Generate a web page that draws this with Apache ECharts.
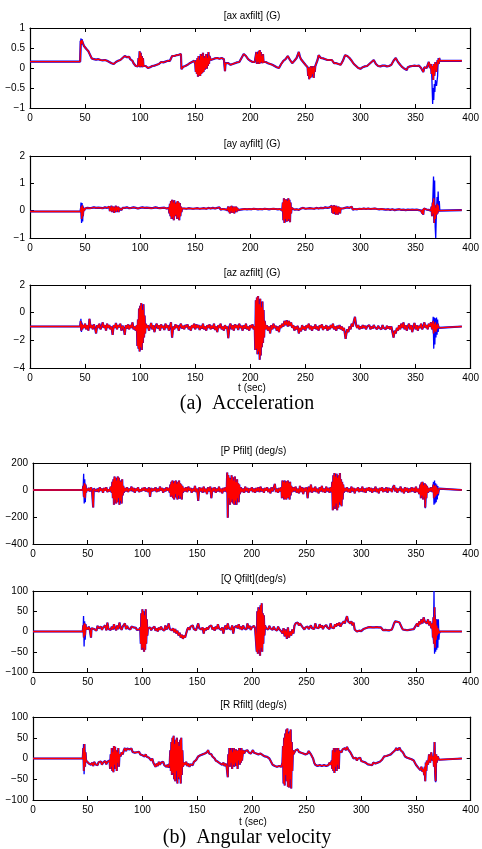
<!DOCTYPE html>
<html>
<head>
<meta charset="utf-8">
<script src="https://cdn.jsdelivr.net/npm/echarts@6/dist/echarts.min.js"></script>
<style>
html, body { margin: 0; padding: 0; background: #fff; }
#chart { width: 482px; height: 849px; }
</style>
</head>
<body>
<div id="chart"></div>
<script>
// tick labels
const xTicks = [0, 50, 100, 150, 200, 250, 300, 350, 400];
const axTicks = [-1, -0.5, 0, 0.5, 1];
const ayTicks = [-1, 0, 1, 2];
const azTicks = [-4, -2, 0, 2];
const pTicks = [-400, -200, 0, 200];
const qTicks = [-100, -50, 0, 50, 100];
const rTicks = [-100, -50, 0, 50, 100];

// filtered signals (red), [t, value]
const axFilt = [[0,0.16],[45.5,0.16],[46,0.68],[46.5,0.6],[47,0.7],[48,0.62],[49,0.55],[50,0.5],[51,0.48],[52,0.45],[53,0.42],[54,0.36],[55,0.3],[56,0.24],[57,0.27],[58,0.22],[59,0.25],[60,0.21],[61,0.24],[62,0.22],[63,0.26],[64,0.2],[65,0.23],[66,0.19],[67,0.22],[68,0.2],[69,0.24],[70,0.18],[71,0.2],[72,0.15],[73,0.16],[74,0.12],[75,0.14],[76,0.1],[77,0.13],[78,0.15],[79,0.14],[80,0.18],[81,0.16],[82,0.2],[83,0.22],[84,0.25],[85,0.24],[86,0.3],[87,0.33],[88,0.27],[89,0.25],[90,0.28],[91,0.22],[92,0.2],[93,0.18],[94,0.12],[95,0.1],[96,0.05],[97,0.08],[98,0.04],[98.5,0.25],[99,0.05],[99.5,0.42],[100,0.02],[100.5,0.38],[101,0.05],[101.5,0.3],[102,0.02],[102.5,0.25],[103,0.05],[104,0.1],[105,0.05],[106,0.02],[107,0.0],[108,0.03],[109,0.02],[110,0.0],[111,0.05],[112,0.08],[113,0.06],[114,0.1],[115,0.08],[116,0.12],[117,0.1],[118,0.12],[119,0.15],[120,0.12],[121,0.14],[122,0.12],[123,0.16],[124,0.15],[125,0.18],[126,0.2],[127,0.18],[128,0.22],[129,0.3],[130,0.33],[131,0.3],[132,0.35],[133,0.32],[134,0.36],[135,0.33],[136,0.38],[137,0.35],[137.5,-0.03],[138,0.0],[139,0.03],[140,0.0],[141,0.05],[142,0.02],[143,0.08],[144,0.1],[145,0.12],[146,0.1],[147,0.15],[148,0.12],[149,0.18],[150,0.1],[150.5,-0.1],[151,0.2],[151.5,-0.15],[152,0.25],[152.5,-0.22],[153,0.3],[153.5,-0.18],[154,0.2],[154.5,-0.2],[155,0.35],[155.5,-0.15],[156,0.3],[156.5,-0.12],[157,0.38],[157.5,-0.1],[158,0.25],[158.5,-0.05],[159,0.3],[159.5,0.0],[160,0.35],[160.5,-0.02],[161,0.25],[161.5,0.05],[162,0.4],[162.5,0.1],[163,0.3],[164,0.2],[165,0.25],[166,0.22],[167,0.2],[168,0.24],[169,0.22],[170,0.25],[171,0.2],[172,0.23],[173,0.2],[174,0.25],[175,0.2],[176,0.22],[177,-0.08],[177.5,0.12],[178,0.1],[179,0.08],[180,0.12],[181,0.1],[182,0.08],[183,0.12],[184,0.1],[185,0.08],[186,0.12],[187,0.1],[188,0.14],[189,0.12],[190,0.15],[191,0.2],[192,0.25],[193,0.3],[194,0.35],[195,0.38],[196,0.3],[197,0.28],[198,0.22],[199,0.2],[200,0.18],[201,0.2],[202,0.15],[203,0.18],[204,0.15],[205,0.12],[205.5,0.4],[206,0.1],[206.5,0.35],[207,0.15],[207.5,0.42],[208,0.1],[208.5,0.45],[209,0.12],[209.5,0.4],[210,0.15],[210.5,0.3],[211,0.12],[211.5,0.35],[212,0.15],[213,0.2],[214,0.15],[215,0.18],[216,0.12],[217,0.15],[218,0.1],[219,0.12],[220,0.08],[221,0.1],[222,0.05],[223,0.08],[224,0.02],[225,0.05],[226,0.0],[227,0.05],[228,0.1],[229,0.12],[230,0.18],[231,0.15],[232,0.22],[233,0.25],[234,0.3],[235,0.28],[236,0.2],[237,0.15],[238,0.12],[239,0.15],[240,0.18],[241,0.22],[242,0.25],[243,0.3],[244,0.4],[245,0.28],[246,0.22],[247,0.18],[248,0.15],[249,0.12],[250,0.08],[251,0.05],[252,0.02],[252.5,-0.2],[253,0.0],[253.5,-0.28],[254,0.02],[254.5,-0.25],[255,0.05],[255.5,-0.22],[256,0.0],[256.5,-0.15],[257,0.05],[257.5,-0.25],[258,0.02],[258.5,-0.1],[259,0.05],[260,0.1],[261,0.2],[262,0.32],[263,0.28],[264,0.25],[265,0.27],[266,0.24],[267,0.25],[268,0.22],[269,0.24],[270,0.2],[271,0.22],[272,0.2],[273,0.18],[274,0.2],[275,0.15],[276,0.12],[277,0.1],[278,0.12],[279,0.08],[280,0.1],[281,0.06],[282,0.08],[283,0.1],[284,0.18],[285,0.25],[286,0.32],[287,0.35],[288,0.3],[289,0.28],[290,0.25],[291,0.22],[292,0.18],[293,0.15],[294,0.1],[295,0.08],[296,0.05],[297,0.02],[298,0.0],[299,0.02],[300,-0.02],[301,0.0],[302,0.02],[303,0.0],[304,0.04],[305,0.02],[306,0.05],[307,0.08],[308,0.1],[309,0.12],[310,0.15],[311,0.18],[312,0.2],[313,0.15],[314,0.1],[315,0.08],[316,0.05],[317,0.06],[318,0.04],[319,0.05],[320,0.06],[321,0.04],[322,0.06],[323,0.05],[324,0.04],[325,0.06],[326,0.05],[327,0.04],[328,0.08],[329,0.1],[330,0.18],[331,0.22],[332,0.25],[333,0.2],[334,0.15],[335,0.12],[336,0.08],[337,0.05],[338,0.02],[339,0.0],[340,-0.02],[341,0.0],[342,-0.05],[343,0.02],[344,0.0],[345,0.04],[346,0.02],[347,0.05],[348,0.02],[349,0.06],[350,0.03],[351,0.05],[352,0.02],[353,0.06],[354,0.04],[355,0.0],[356,-0.05],[356.5,0.05],[357,-0.1],[358,0.02],[359,0.05],[360,0.0],[361,0.05],[362,0.15],[363,0.0],[364,0.1],[364.5,-0.15],[365,0.05],[366,-0.3],[366.5,0.1],[367,-0.2],[368,0.15],[369,-0.1],[370,0.2],[371,0.1],[371.5,0.25],[372,0.18],[392,0.18]];

const ayFilt = [[0,-0.03],[46,-0.03],[46.5,0.15],[47,-0.3],[47.5,0.2],[48,-0.2],[48.5,0.1],[49,0.0],[50,0.08],[51,0.05],[52,0.1],[53,0.06],[54,0.09],[55,0.05],[56,0.1],[57,0.08],[58,0.12],[59,0.07],[60,0.1],[61,0.06],[62,0.11],[63,0.08],[64,0.1],[65,0.05],[66,0.09],[67,0.07],[68,0.12],[69,0.06],[70,0.1],[71,0.08],[72,0.15],[72.5,-0.02],[73,0.12],[73.5,0.0],[74,0.18],[74.5,-0.05],[75,0.12],[75.5,0.02],[76,0.15],[76.5,-0.08],[77,0.1],[77.5,0.0],[78,0.18],[78.5,-0.05],[79,0.12],[79.5,0.02],[80,0.15],[80.5,-0.05],[81,0.1],[82,0.14],[83,0.02],[84,0.1],[85,0.06],[86,0.1],[87,0.05],[88,0.12],[89,0.06],[90,0.09],[91,0.04],[92,0.1],[93,0.06],[94,0.12],[95,0.05],[96,0.1],[97,0.04],[98,0.08],[99,0.05],[100,0.1],[101,0.06],[102,0.12],[103,0.05],[104,0.1],[105,0.07],[106,0.11],[107,0.06],[108,0.1],[109,0.05],[110,0.09],[111,0.06],[112,0.1],[113,0.08],[114,0.12],[115,0.06],[116,0.1],[117,0.05],[118,0.09],[119,0.07],[120,0.1],[121,0.06],[122,0.11],[123,0.05],[124,0.08],[125,0.06],[126,0.1],[126.5,-0.1],[127,0.25],[127.5,-0.2],[128,0.35],[128.5,-0.3],[129,0.4],[129.5,-0.25],[130,0.3],[130.5,-0.35],[131,0.38],[131.5,-0.2],[132,0.25],[132.5,-0.15],[133,0.3],[133.5,-0.3],[134,0.35],[134.5,-0.25],[135,0.3],[135.5,-0.35],[136,0.28],[136.5,-0.2],[137,0.15],[137.5,-0.05],[138,0.08],[139,0.05],[140,0.08],[141,0.04],[142,0.07],[143,0.05],[144,0.09],[145,0.06],[146,0.08],[147,0.04],[148,0.07],[149,0.05],[150,0.08],[151,0.06],[152,0.09],[153,0.05],[154,0.07],[155,0.04],[156,0.08],[157,0.06],[158,0.09],[159,0.05],[160,0.07],[161,0.06],[162,0.1],[163,0.05],[164,0.08],[165,0.06],[166,0.1],[167,0.04],[168,0.08],[169,0.06],[170,0.1],[171,0.05],[172,0.12],[173,0.04],[174,0.08],[175,0.06],[176,0.1],[177,0.05],[178,0.12],[179,0.02],[180,0.15],[180.5,-0.05],[181,0.12],[181.5,-0.1],[182,0.15],[182.5,-0.02],[183,0.18],[183.5,-0.08],[184,0.1],[184.5,-0.05],[185,0.15],[185.5,-0.1],[186,0.12],[186.5,0.0],[187,0.15],[187.5,-0.05],[188,0.1],[189,0.02],[190,0.06],[191,0.04],[192,0.07],[193,0.05],[194,0.08],[195,0.06],[196,0.09],[197,0.05],[198,0.08],[199,0.06],[200,0.1],[201,0.05],[202,0.08],[203,0.07],[204,0.1],[205,0.06],[206,0.08],[207,0.05],[208,0.09],[209,0.06],[210,0.1],[211,0.05],[212,0.08],[213,0.07],[214,0.1],[215,0.06],[216,0.09],[217,0.05],[218,0.08],[219,0.06],[220,0.1],[221,0.07],[222,0.12],[223,0.06],[224,0.1],[225,0.05],[226,0.08],[227,0.06],[228,0.1],[229,0.0],[229.5,0.3],[230,-0.35],[230.5,0.45],[231,-0.45],[231.5,0.4],[232,-0.3],[232.5,0.42],[233,-0.4],[233.5,0.35],[234,-0.38],[234.5,0.45],[235,-0.3],[235.5,0.4],[236,-0.42],[236.5,0.3],[237,-0.1],[237.5,0.1],[238,0.03],[239,0.06],[240,0.04],[241,0.08],[242,0.05],[243,0.07],[244,0.03],[245,0.06],[246,0.08],[247,0.04],[248,0.1],[249,0.05],[250,0.07],[251,0.04],[252,0.08],[253,0.06],[254,0.09],[255,0.05],[256,0.08],[257,0.04],[258,0.07],[259,0.05],[260,0.1],[261,0.06],[262,0.08],[263,0.04],[264,0.1],[265,0.06],[266,0.09],[267,0.05],[268,0.12],[269,0.06],[270,0.1],[271,0.07],[272,0.12],[273,0.05],[274,0.18],[274.5,-0.08],[275,0.15],[275.5,-0.12],[276,0.2],[276.5,-0.05],[277,0.15],[277.5,-0.15],[278,0.18],[278.5,-0.1],[279,0.12],[279.5,-0.15],[280,0.15],[280.5,-0.05],[281,0.12],[281.5,-0.1],[282,0.08],[283,0.04],[284,0.08],[285,0.05],[286,0.1],[287,0.06],[288,0.12],[289,0.05],[290,0.1],[291,0.06],[292,0.15],[293,0.04],[294,0.1],[295,0.06],[296,0.12],[297,0.05],[298,0.1],[299,0.07],[300,0.12],[301,0.06],[302,0.1],[303,0.08],[304,0.12],[305,0.06],[306,0.1],[307,0.08],[308,0.11],[309,0.06],[310,0.1],[311,0.07],[312,0.12],[313,0.08],[314,0.1],[315,0.06],[316,0.09],[317,0.05],[318,0.08],[319,0.06],[320,0.1],[321,0.05],[322,0.08],[323,0.04],[324,0.07],[325,0.05],[326,0.09],[327,0.03],[328,0.08],[329,0.05],[330,0.06],[331,0.02],[332,0.07],[333,0.04],[334,0.08],[335,0.05],[336,0.07],[337,0.03],[338,0.06],[339,0.04],[340,0.08],[341,0.02],[342,0.06],[343,0.04],[344,0.07],[345,0.03],[346,0.06],[347,0.04],[348,0.08],[349,0.03],[350,0.06],[351,0.04],[352,0.1],[353,0.02],[354,0.06],[355,0.0],[356,-0.1],[356.5,0.05],[357,-0.15],[357.5,0.08],[358,0.02],[359,0.06],[360,0.04],[361,0.08],[362,0.03],[363,0.06],[364,0.0],[364.5,0.15],[365,-0.2],[365.5,0.3],[366,-0.1],[366.5,0.45],[367,-0.45],[367.5,0.2],[368,-0.3],[368.5,0.1],[369,-0.15],[369.5,0.25],[370,-0.1],[370.5,0.2],[371,0.0],[371.5,0.05],[372,0.02],[392,0.02]];

const azFilt = [[0,-1],[45.5,-1],[46,-0.6],[46.5,-1.3],[47,-0.8],[47.5,-1.2],[48,-0.9],[49,-1.1],[50,-0.8],[51,-1.2],[52,-0.9],[53,-1.3],[54,-0.45],[55,-1.1],[56,-0.9],[57,-1.2],[58,-0.85],[59,-1.1],[60,-1.5],[61,-0.9],[62,-1.1],[63,-0.8],[64,-1.2],[65,-1.0],[66,-0.7],[67,-1.1],[68,-0.9],[69,-1.3],[70,-0.8],[71,-1.1],[72,-0.9],[73,-1.2],[74,-1.0],[75,-1.6],[76,-0.9],[77,-1.1],[78,-0.75],[79,-1.2],[80,-0.9],[81,-1.05],[82,-0.8],[83,-1.3],[84,-0.95],[85,-1.1],[86,-1.6],[87,-0.9],[88,-1.15],[89,-0.85],[90,-1.2],[91,-0.9],[92,-1.1],[93,-0.7],[94,-1.2],[95,-1.0],[96,-1.3],[97,-0.9],[97.5,-2.4],[98,-0.5],[98.5,-2.6],[99,0.3],[99.5,-2.8],[100,0.5],[100.5,-2.5],[101,0.7],[101.5,-2.7],[102,0.2],[102.5,-2.2],[103,0.6],[103.5,-1.8],[104,-0.2],[104.5,-1.5],[105,-0.8],[106,-1.1],[107,-0.9],[108,-1.3],[109,-1.0],[110,-0.75],[111,-1.2],[112,-0.9],[113,-1.4],[114,-1.0],[115,-0.8],[116,-1.15],[117,-0.9],[118,-1.3],[119,-0.85],[120,-1.1],[121,-0.95],[122,-1.25],[123,-0.8],[124,-1.1],[125,-0.9],[126,-1.3],[127,-1.0],[128,-0.7],[129,-1.8],[130,-1.0],[131,-1.2],[132,-0.85],[133,-1.1],[134,-0.9],[135,-1.3],[136,-1.0],[137,-0.8],[138,-1.15],[139,-0.95],[140,-1.2],[141,-0.9],[142,-1.05],[143,-0.85],[144,-1.2],[145,-1.0],[146,-1.3],[147,-0.9],[148,-1.1],[149,-0.8],[150,-1.2],[151,-0.85],[152,-1.1],[153,-0.9],[154,-1.25],[155,-0.95],[156,-1.15],[157,-0.8],[158,-1.2],[159,-1.0],[160,-1.3],[161,-0.9],[162,-1.1],[163,-0.85],[164,-1.2],[165,-0.95],[166,-1.15],[167,-0.8],[168,-1.25],[169,-1.0],[170,-1.4],[171,-0.9],[172,-1.1],[173,-0.8],[174,-1.2],[175,-1.0],[176,-1.3],[177,-0.9],[178,-1.15],[179,-1.0],[180,-1.85],[181,-1.0],[182,-0.8],[183,-1.2],[184,-0.9],[185,-1.3],[186,-0.85],[187,-1.1],[188,-0.9],[189,-1.25],[190,-0.8],[191,-1.1],[192,-0.95],[193,-1.3],[194,-0.9],[195,-1.15],[196,-0.8],[197,-1.2],[198,-1.0],[199,-1.3],[200,-0.9],[201,-1.1],[202,-0.85],[203,-1.2],[204,-1.0],[204.5,-2.7],[205,0.9],[205.5,-2.6],[206,1.1],[206.5,-3.0],[207,1.2],[207.5,-2.8],[208,0.6],[208.5,-3.4],[209,1.0],[209.5,-3.1],[210,0.4],[210.5,-2.5],[211,0.8],[211.5,-2.2],[212,0.2],[212.5,-1.8],[213,-0.6],[214,-1.2],[215,-0.9],[216,-1.3],[217,-1.0],[218,-1.5],[219,-0.9],[220,-1.2],[221,-0.8],[222,-1.1],[223,-0.95],[224,-1.3],[225,-1.0],[226,-1.4],[227,-0.9],[228,-1.1],[229,-0.8],[230,-1.0],[231,-0.6],[232,-0.9],[233,-0.55],[234,-1.0],[235,-0.6],[236,-0.95],[237,-0.7],[238,-1.1],[239,-0.9],[240,-1.3],[241,-1.0],[242,-1.2],[243,-0.95],[244,-1.5],[245,-1.1],[246,-1.35],[247,-0.9],[248,-1.2],[249,-1.0],[250,-1.3],[251,-0.9],[252,-1.1],[253,-0.8],[254,-1.2],[255,-0.95],[256,-1.3],[257,-1.0],[258,-1.15],[259,-0.85],[260,-1.2],[261,-1.0],[262,-1.3],[263,-0.9],[264,-1.1],[265,-0.85],[266,-1.25],[267,-1.0],[268,-1.15],[269,-0.9],[270,-1.3],[271,-1.0],[272,-1.2],[273,-0.9],[274,-1.1],[275,-0.8],[276,-1.2],[277,-1.0],[278,-1.3],[279,-0.95],[280,-1.15],[281,-0.9],[282,-1.2],[283,-1.0],[284,-1.3],[285,-1.1],[286,-1.6],[286.5,-1.9],[287,-1.6],[288,-1.2],[289,-1.4],[290,-1.0],[291,-1.2],[292,-0.8],[293,-1.0],[294,-0.6],[295,-0.3],[296,-0.9],[297,-1.1],[298,-0.9],[299,-1.2],[300,-1.0],[301,-1.15],[302,-0.9],[303,-1.1],[304,-0.95],[305,-1.2],[306,-1.0],[307,-1.1],[308,-0.9],[309,-1.2],[310,-1.0],[311,-1.15],[312,-0.9],[313,-1.05],[314,-1.0],[315,-1.2],[316,-0.95],[317,-1.1],[318,-1.0],[319,-1.2],[320,-0.9],[321,-1.1],[322,-1.0],[323,-1.2],[324,-0.95],[325,-1.15],[326,-1.0],[327,-1.2],[328,-1.0],[329,-1.4],[330,-1.8],[331,-1.3],[332,-1.5],[333,-1.1],[334,-1.3],[335,-0.9],[336,-1.2],[337,-0.8],[338,-1.1],[339,-0.7],[340,-1.2],[341,-0.9],[342,-1.3],[343,-1.0],[344,-0.8],[345,-1.2],[346,-0.9],[347,-1.4],[348,-1.0],[349,-0.75],[350,-1.2],[351,-0.9],[352,-1.3],[353,-0.95],[354,-1.1],[355,-0.8],[356,-1.2],[357,-1.0],[358,-0.7],[359,-1.1],[360,-0.9],[361,-1.2],[362,-0.8],[363,-1.0],[364,-0.7],[365,-1.2],[366,-0.6],[366.5,-1.5],[367,-0.8],[367.5,-1.3],[368,-0.7],[368.5,-1.4],[369,-0.9],[369.5,-1.2],[370,-0.8],[371,-1.1],[372,-1.0],[392,-1.0]];

const pFilt = [[0,0],[45.5,0],[46,30],[46.5,-50],[47,50],[47.5,-60],[48,40],[48.5,-20],[49,10],[50,-5],[51,15],[52,-10],[53,20],[54,-5],[55,-130],[55.5,10],[56,0],[57,15],[58,-10],[59,10],[60,-15],[61,20],[62,-5],[63,10],[64,-20],[65,15],[66,-5],[67,20],[68,-15],[69,5],[70,-10],[71,25],[72,-20],[72.5,60],[73,-60],[73.5,80],[74,-110],[74.5,100],[75,-70],[75.5,90],[76,-100],[76.5,70],[77,-90],[77.5,100],[78,-60],[78.5,90],[79,-110],[79.5,70],[80,-80],[80.5,60],[81,-100],[81.5,80],[82,-40],[82.5,30],[83,-20],[84,15],[85,-10],[86,20],[87,-15],[88,10],[89,-5],[90,25],[91,-10],[92,15],[93,-20],[94,10],[95,-5],[96,20],[97,-15],[98,5],[99,-10],[100,15],[101,-5],[102,20],[103,-10],[104,10],[105,-15],[106,20],[107,-50],[108,15],[109,-10],[110,10],[111,-5],[112,20],[113,-15],[114,10],[115,-10],[116,25],[117,-5],[118,15],[119,-20],[120,10],[121,-10],[122,20],[123,-5],[124,15],[125,-20],[125.5,40],[126,-50],[126.5,60],[127,-40],[127.5,70],[128,-60],[128.5,50],[129,-70],[129.5,65],[130,-30],[130.5,70],[131,-55],[131.5,45],[132,-70],[132.5,60],[133,-40],[133.5,70],[134,-65],[134.5,50],[135,-50],[135.5,40],[136,-70],[136.5,30],[137,-20],[138,15],[139,-10],[140,20],[141,-15],[142,25],[143,-5],[144,15],[145,-20],[146,10],[147,-10],[148,30],[149,-15],[150,10],[151,-80],[152,20],[153,-10],[154,15],[155,-20],[156,25],[157,-15],[158,10],[159,-30],[160,20],[161,-10],[162,25],[163,-60],[164,15],[165,-10],[166,20],[167,-20],[168,10],[169,-10],[170,25],[171,-15],[172,10],[173,-25],[174,15],[175,-10],[176,20],[177,-15],[177.5,130],[178,-205],[178.5,110],[179,-60],[179.5,90],[180,-110],[180.5,80],[181,-90],[181.5,110],[182,-70],[182.5,95],[183,-100],[183.5,70],[184,-110],[184.5,100],[185,-80],[185.5,60],[186,-110],[186.5,80],[187,-60],[187.5,50],[188,-90],[188.5,40],[189,-30],[190,20],[191,-15],[192,10],[193,-20],[194,25],[195,-10],[196,15],[197,-20],[198,10],[199,-5],[200,20],[201,-15],[202,10],[203,-20],[204,15],[205,-10],[206,20],[207,-15],[208,25],[209,-10],[210,10],[211,-20],[212,15],[213,-5],[214,20],[215,-15],[216,10],[217,-25],[218,20],[219,-10],[220,15],[221,45],[222,-15],[223,10],[224,-20],[225,15],[226,-10],[227,20],[227.5,-60],[228,70],[228.5,-50],[229,60],[229.5,-70],[230,70],[230.5,-65],[231,55],[231.5,-70],[232,65],[232.5,-60],[233,70],[233.5,-55],[234,50],[234.5,-70],[235,60],[235.5,-40],[236,30],[237,-15],[238,20],[239,-10],[240,25],[241,-20],[242,10],[243,-25],[244,30],[245,-15],[246,20],[247,-30],[248,15],[249,-10],[250,20],[251,-60],[252,25],[253,-15],[254,40],[255,-20],[256,15],[257,-10],[258,25],[259,-15],[260,10],[261,-25],[262,20],[263,-10],[264,30],[265,-15],[266,10],[267,-20],[268,25],[269,-10],[270,15],[271,-20],[272,20],[273,-15],[273.5,60],[274,-150],[274.5,110],[275,-120],[275.5,125],[276,-140],[276.5,100],[277,-100],[277.5,120],[278,-150],[278.5,90],[279,-130],[279.5,110],[280,-90],[280.5,125],[281,-110],[281.5,80],[282,-120],[282.5,60],[283,-70],[283.5,40],[284,-20],[285,15],[286,-10],[287,20],[288,-15],[289,10],[290,-20],[291,25],[292,-10],[293,15],[294,-25],[295,10],[296,-5],[297,20],[298,-15],[299,10],[300,-10],[301,25],[302,-15],[303,10],[304,-20],[305,15],[306,-5],[307,20],[308,-10],[309,15],[310,-20],[311,10],[312,-10],[313,25],[314,-15],[315,10],[316,-25],[317,15],[318,-5],[319,20],[320,-15],[321,10],[322,-10],[323,20],[324,-20],[325,15],[326,-5],[327,10],[328,-15],[329,20],[330,35],[331,-10],[332,15],[333,-20],[334,10],[335,-5],[336,25],[337,-15],[338,10],[339,-25],[340,20],[341,-10],[342,15],[343,-20],[344,10],[345,-15],[346,20],[347,-10],[348,15],[349,-20],[350,25],[351,-15],[352,10],[353,-30],[354,40],[354.5,-60],[355,55],[355.5,-40],[356,60],[356.5,-70],[357,35],[357.5,-50],[358,50],[358.5,-130],[359,40],[359.5,-60],[360,30],[361,-20],[362,15],[363,-10],[364,20],[365,-15],[366,40],[366.5,-60],[367,30],[367.5,-50],[368,35],[368.5,-40],[369,20],[370,-30],[371,10],[372,0],[392,0]];

const qFilt = [[0,0],[45.5,0],[46,15],[46.5,-15],[47,20],[47.5,-10],[48,18],[48.5,5],[49,10],[50,5],[51,12],[52,3],[53,-15],[53.5,8],[54,5],[55,12],[56,6],[57,10],[58,2],[59,14],[60,8],[61,5],[62,12],[63,4],[64,10],[65,7],[66,15],[67,3],[68,22],[69,6],[70,10],[71,4],[72,12],[73,5],[74,18],[75,8],[76,3],[77,15],[78,6],[79,22],[80,10],[81,4],[82,12],[83,8],[84,20],[85,6],[86,14],[87,8],[88,10],[89,5],[90,12],[91,8],[92,10],[93,6],[94,9],[95,4],[96,8],[97,5],[98,10],[98.5,-30],[99,45],[99.5,-45],[100,55],[100.5,-40],[101,50],[101.5,-50],[102,40],[102.5,-45],[103,55],[103.5,-30],[104,30],[104.5,-10],[105,8],[106,5],[107,10],[108,3],[109,8],[110,4],[111,12],[112,2],[113,8],[114,0],[115,10],[116,4],[117,12],[118,6],[119,10],[120,2],[121,15],[122,5],[123,10],[124,20],[125,6],[126,10],[127,3],[128,8],[129,-2],[130,6],[131,-5],[132,2],[133,-10],[134,-3],[135,-15],[136,-8],[137,-18],[138,-10],[139,-15],[140,-5],[141,5],[142,10],[143,4],[144,12],[145,8],[146,15],[147,6],[148,10],[149,3],[150,12],[151,20],[152,8],[153,12],[154,5],[155,10],[156,-5],[157,8],[158,3],[159,10],[160,5],[161,12],[162,8],[163,15],[164,5],[165,10],[166,2],[167,12],[168,6],[169,18],[170,8],[171,12],[172,4],[173,10],[174,-5],[175,8],[176,15],[177,5],[178,20],[179,8],[180,12],[181,5],[182,15],[183,-5],[184,10],[185,6],[186,14],[187,8],[188,18],[189,6],[190,12],[191,4],[192,15],[193,8],[194,12],[195,5],[196,20],[197,8],[198,14],[199,4],[200,10],[201,6],[202,14],[203,8],[204,10],[204.5,-50],[205,50],[205.5,-55],[206,60],[206.5,-45],[207,55],[207.5,-60],[208,65],[208.5,-40],[209,70],[209.5,-50],[210,45],[210.5,-30],[211,40],[211.5,-10],[212,15],[213,8],[214,12],[215,5],[216,14],[217,8],[218,10],[219,4],[220,12],[221,6],[222,10],[223,2],[224,12],[225,6],[226,8],[227,0],[228,-5],[229,8],[230,-12],[231,5],[232,-18],[233,10],[234,-15],[235,0],[236,-10],[237,5],[238,-5],[239,15],[240,20],[241,18],[242,22],[243,15],[244,20],[245,16],[246,12],[247,8],[248,5],[249,10],[250,8],[251,12],[252,6],[253,10],[254,15],[255,8],[256,12],[257,6],[258,20],[259,10],[260,14],[261,8],[262,18],[263,10],[264,15],[265,6],[266,12],[267,8],[268,16],[269,10],[270,14],[271,6],[272,20],[273,10],[274,14],[275,8],[276,18],[277,12],[278,20],[279,15],[280,22],[281,12],[282,18],[283,14],[284,25],[285,20],[286,30],[287,38],[288,25],[289,28],[290,20],[291,25],[292,15],[293,22],[294,5],[295,2],[296,0],[297,4],[298,2],[299,5],[300,1],[301,3],[302,6],[303,4],[304,8],[305,6],[306,10],[307,8],[308,11],[309,9],[310,10],[311,8],[312,10],[313,9],[314,11],[315,8],[316,10],[317,12],[318,10],[319,6],[320,3],[321,2],[322,4],[323,2],[324,3],[325,1],[326,3],[327,2],[328,5],[329,12],[330,20],[331,25],[332,22],[333,24],[334,20],[335,22],[336,18],[337,10],[338,5],[339,2],[340,4],[341,1],[342,3],[343,0],[344,4],[345,2],[346,5],[347,3],[348,6],[349,10],[350,15],[351,20],[352,12],[353,25],[354,18],[355,30],[356,20],[357,35],[358,25],[359,28],[360,20],[361,30],[362,15],[363,25],[364,8],[365,20],[365.5,-15],[366,35],[366.5,-30],[367,60],[367.5,-40],[368,30],[368.5,-20],[369,15],[369.5,-10],[370,8],[371,-5],[372,0],[392,0]];

const rFilt = [[0,0],[45.5,0],[46,25],[46.5,-30],[47,35],[47.5,-20],[48,15],[48.5,-5],[49,-8],[50,-5],[51,-12],[52,-8],[53,-15],[54,-10],[55,-18],[56,-8],[57,-14],[58,-10],[59,-16],[60,-9],[61,-13],[62,-7],[63,-15],[64,-10],[65,-12],[66,-6],[67,-14],[68,-8],[69,-12],[70,-5],[70.5,-25],[71,10],[71.5,-20],[72,25],[72.5,-30],[73,15],[73.5,-33],[74,30],[74.5,-15],[75,28],[75.5,-25],[76,20],[76.5,-30],[77,15],[77.5,-10],[78,25],[78.5,-20],[79,10],[80,5],[81,15],[82,10],[83,20],[84,25],[85,18],[86,24],[87,20],[88,22],[89,18],[90,24],[91,16],[92,20],[93,14],[94,18],[95,15],[96,12],[97,16],[98,10],[99,14],[100,8],[101,12],[102,5],[103,10],[104,4],[105,8],[106,2],[107,6],[108,-5],[109,0],[110,-10],[111,-6],[112,-20],[113,-12],[114,-18],[115,-8],[116,-15],[117,-10],[118,-14],[119,-8],[120,-16],[121,-12],[122,-20],[123,-15],[124,-22],[125,-10],[125.5,20],[126,-30],[126.5,40],[127,-40],[127.5,50],[128,-35],[128.5,55],[129,-50],[129.5,35],[130,-55],[130.5,45],[131,-30],[131.5,50],[132,-60],[132.5,40],[133,-45],[133.5,30],[134,-50],[134.5,45],[135,-60],[135.5,50],[136,-40],[136.5,20],[137,-20],[138,-10],[139,-15],[140,-8],[141,-18],[142,-12],[143,-20],[144,-14],[145,-10],[146,-16],[147,-8],[148,-12],[149,-4],[150,0],[151,5],[152,2],[153,8],[154,4],[155,10],[156,6],[157,12],[158,8],[159,15],[160,20],[161,12],[162,8],[163,10],[164,5],[165,8],[166,0],[167,-5],[168,-2],[169,-8],[170,-5],[171,-12],[172,-8],[173,-15],[174,-10],[175,-18],[176,-12],[177,-20],[178,-45],[178.5,10],[179,-15],[179.5,25],[180,-20],[180.5,20],[181,-10],[181.5,25],[182,-25],[182.5,15],[183,-15],[183.5,25],[184,-20],[184.5,20],[185,-10],[185.5,22],[186,-18],[186.5,18],[187,-25],[187.5,20],[188,-5],[188.5,25],[189,-15],[189.5,20],[190,-10],[190.5,25],[191,-5],[192,20],[193,12],[194,18],[195,14],[196,20],[197,15],[198,18],[199,12],[200,16],[201,20],[202,14],[203,18],[204,12],[205,16],[206,10],[207,14],[208,12],[209,15],[210,8],[211,10],[212,5],[213,8],[214,4],[215,6],[216,0],[217,-5],[218,-10],[219,-15],[220,-12],[221,-18],[222,-14],[223,-20],[224,-16],[225,-18],[226,-14],[227,-20],[228,-10],[228.5,30],[229,-60],[229.5,50],[230,-65],[230.5,60],[231,-40],[231.5,70],[232,-55],[232.5,72],[233,-68],[233.5,60],[234,-70],[234.5,65],[235,-50],[235.5,70],[236,-72],[236.5,40],[237,-30],[237.5,20],[238,10],[239,15],[240,20],[241,18],[242,22],[243,16],[244,20],[245,14],[246,18],[247,12],[248,16],[249,10],[250,14],[251,12],[252,18],[253,15],[254,10],[255,5],[256,0],[257,-10],[258,-15],[259,-12],[260,-18],[261,-14],[262,-16],[263,-12],[264,-18],[265,-14],[266,-16],[267,-12],[268,-18],[269,-14],[270,-16],[271,-10],[272,-15],[273,-5],[273.5,-25],[274,20],[274.5,-30],[275,25],[275.5,-35],[276,15],[276.5,-20],[277,25],[277.5,-30],[278,20],[278.5,-15],[279,25],[279.5,-25],[280,18],[281,20],[282,15],[283,22],[284,18],[285,25],[286,20],[287,28],[288,22],[289,25],[290,15],[291,10],[292,5],[293,0],[294,-3],[295,2],[296,-5],[297,0],[298,-4],[299,2],[300,-6],[301,-2],[302,-8],[303,-4],[304,-10],[305,-8],[306,-14],[307,-10],[308,-15],[309,-12],[310,-16],[311,-10],[312,-14],[313,-12],[314,-15],[315,-10],[316,-13],[317,-8],[318,-10],[319,-3],[320,0],[321,5],[322,2],[323,6],[324,3],[325,8],[326,5],[327,10],[328,8],[329,15],[330,18],[331,20],[332,25],[333,20],[334,24],[335,26],[336,20],[337,22],[338,15],[339,10],[340,5],[341,8],[342,2],[343,5],[344,0],[345,4],[346,-2],[347,2],[348,-5],[349,-10],[350,-15],[351,-12],[352,-22],[353,-18],[354,-28],[355,-20],[356,-32],[357,-25],[357.5,-40],[358,-20],[358.5,-55],[359,-10],[359.5,-30],[360,-5],[361,-15],[362,10],[363,-10],[364,15],[365,-5],[366,5],[366.5,-20],[367,40],[367.5,-30],[368,-55],[368.5,10],[369,-10],[370,5],[371,-3],[372,0],[392,0]];

// raw-signal excursions (blue) that stick out beyond the filtered trace
const axRawBursts = [
  [[45.8,0.16],[46.2,0.74],[46.8,0.58],[47.3,0.72],[48,0.6]],
  [[364.5,0.0],[365.5,-0.9],[366,-0.5],[366.5,-0.8],[367,-0.4],[367.5,-0.6],[368,-0.3],[369,-0.45],[370,-0.2],[370.5,0.25],[371,0.1]]
];
const ayRawBursts = [
  [[45.8,0.0],[46.3,0.3],[46.8,-0.45],[47.3,0.28],[47.8,-0.4],[48.3,0.15],[48.8,0.0]],
  [[365.5,0.2],[366.3,1.25],[366.8,0.0],[367.3,1.1],[367.8,-0.6],[368.3,-1.0],[368.8,-0.2],[369.5,0.5],[370,0.1],[370.5,0.7],[371,0.0],[371.5,0.35],[372,0.02]]
];
const azRawBursts = [
  [[45.8,-1.0],[46.2,-0.45],[46.7,-1.4],[47.2,-0.7]],
  [[365.5,-1.0],[366,-0.3],[366.5,-2.6],[367,-0.35],[367.5,-2.3],[368,-0.4],[368.5,-1.8],[369,-0.35],[369.5,-1.6],[370,-0.5],[370.5,-1.4],[371,-1.0]]
];
const pRawBursts = [
  [[45.8,0],[46.3,120],[46.8,-100],[47.3,80],[47.8,-90],[48.3,30]],
  [[358,20],[358.6,-135],[359.2,30]],
  [[365.5,0],[366,60],[366.5,-110],[367,70],[367.5,-100],[368,50],[368.5,-90],[369,40],[369.5,-70],[370,30],[370.5,-40],[371,0]]
];
const qRawBursts = [
  [[45.8,0],[46.2,38],[46.7,-37],[47.2,25],[47.7,-20],[48.2,10]],
  [[365,10],[366,-20],[366.5,100],[367,-55],[367.5,40],[368,-50],[368.5,30],[369,-45],[369.5,30],[370,-40],[370.5,30],[371,-20],[371.5,0]]
];
const rRawBursts = [
  [[45.8,0],[46.2,35],[46.7,-38],[47.2,20]],
  [[367.3,0],[368,-57],[368.6,0]]
];

const panels = [
  { title: '[ax axfilt] (G)', filt: axFilt, raw: axRawBursts, yTicks: axTicks, box: [30, 28, 444, 80] },
  { title: '[ay ayfilt] (G)', filt: ayFilt, raw: ayRawBursts, yTicks: ayTicks, box: [30, 156, 444, 82] },
  { title: '[az azfilt] (G)', filt: azFilt, raw: azRawBursts, yTicks: azTicks, box: [30, 285, 444, 83] },
  { title: '[P Pfilt] (deg/s)', filt: pFilt, raw: pRawBursts, yTicks: pTicks, box: [33, 463, 441, 81] },
  { title: '[Q Qfilt](deg/s)', filt: qFilt, raw: qRawBursts, yTicks: qTicks, box: [33, 591, 441, 81] },
  { title: '[R Rfilt] (deg/s)', filt: rFilt, raw: rRawBursts, yTicks: rTicks, box: [33, 717, 441, 83] }
];

const FONT = 'Liberation Sans, Arial, Helvetica, sans-serif';
const SERIF = 'Liberation Serif, Times New Roman, serif';
const minus = v => String(v).replace('-', '\u2212');

const chart = echarts.init(document.getElementById('chart'));

const grid = [], xAxis = [], yAxis = [], series = [], graphic = [];

function label(text, x, y, font) {
  return { type: 'text', x, y, style: { text, fill: '#000', font, textAlign: 'center', textVerticalAlign: 'middle' } };
}

panels.forEach((p, i) => {
  const [left, top, width, height] = p.box;
  grid.push({ left, top, width, height, show: false });

  const tick = { show: true, inside: true, length: 4, lineStyle: { color: '#000', width: 1 } };
  const line = { show: true, onZero: false, lineStyle: { color: '#000', width: 1.2 } };

  const xMin = xTicks[0], xMax = xTicks[xTicks.length - 1];
  const xStep = xTicks[1] - xTicks[0];
  xAxis.push({
    type: 'value', gridIndex: i, position: 'bottom', min: xMin, max: xMax, interval: xStep,
    axisLine: line, axisTick: tick, splitLine: { show: false },
    axisLabel: { color: '#000', fontFamily: FONT, fontSize: 10, margin: 5, formatter: minus }
  });
  xAxis.push({
    type: 'value', gridIndex: i, position: 'top', min: xMin, max: xMax, interval: xStep,
    axisLine: line, axisTick: tick, splitLine: { show: false }, axisLabel: { show: false }
  });

  const yMin = p.yTicks[0], yMax = p.yTicks[p.yTicks.length - 1];
  const yStep = p.yTicks[1] - p.yTicks[0];
  yAxis.push({
    type: 'value', gridIndex: i, position: 'left', min: yMin, max: yMax, interval: yStep,
    axisLine: line, axisTick: tick, splitLine: { show: false },
    axisLabel: { color: '#000', fontFamily: FONT, fontSize: 10, margin: 5, formatter: minus }
  });
  yAxis.push({
    type: 'value', gridIndex: i, position: 'right', min: yMin, max: yMax, interval: yStep,
    axisLine: line, axisTick: tick, splitLine: { show: false }, axisLabel: { show: false }
  });

  const xi = i * 2, yi = i * 2;
  // raw signal (blue) underneath
  series.push({
    type: 'line', xAxisIndex: xi, yAxisIndex: yi, data: p.filt, showSymbol: false,
    lineStyle: { color: '#0000ff', width: 2.2 }, animation: false, silent: true, z: 2
  });
  p.raw.forEach(seg => {
    series.push({
      type: 'line', xAxisIndex: xi, yAxisIndex: yi, data: seg, showSymbol: false,
      lineStyle: { color: '#0000ff', width: 1.3 }, animation: false, silent: true, z: 2
    });
  });
  // filtered signal (red) on top
  series.push({
    type: 'line', xAxisIndex: xi, yAxisIndex: yi, data: p.filt, showSymbol: false,
    lineStyle: { color: '#ff0000', width: 1.4 }, animation: false, silent: true, z: 3
  });

  graphic.push(label(p.title, left + width / 2, top - 12, '10px ' + FONT));
});

// x-axis names and sub-figure captions
graphic.push(
  label('t (sec)', 252, 388, '10px ' + FONT),
  label('t (sec)', 253, 822, '10px ' + FONT),
  label('(a)  Acceleration', 247, 404, '20px ' + SERIF),
  label('(b)  Angular velocity', 247, 838, '20px ' + SERIF)
);

chart.setOption({ animation: false, grid, xAxis, yAxis, series, graphic });
</script>
</body>
</html>
